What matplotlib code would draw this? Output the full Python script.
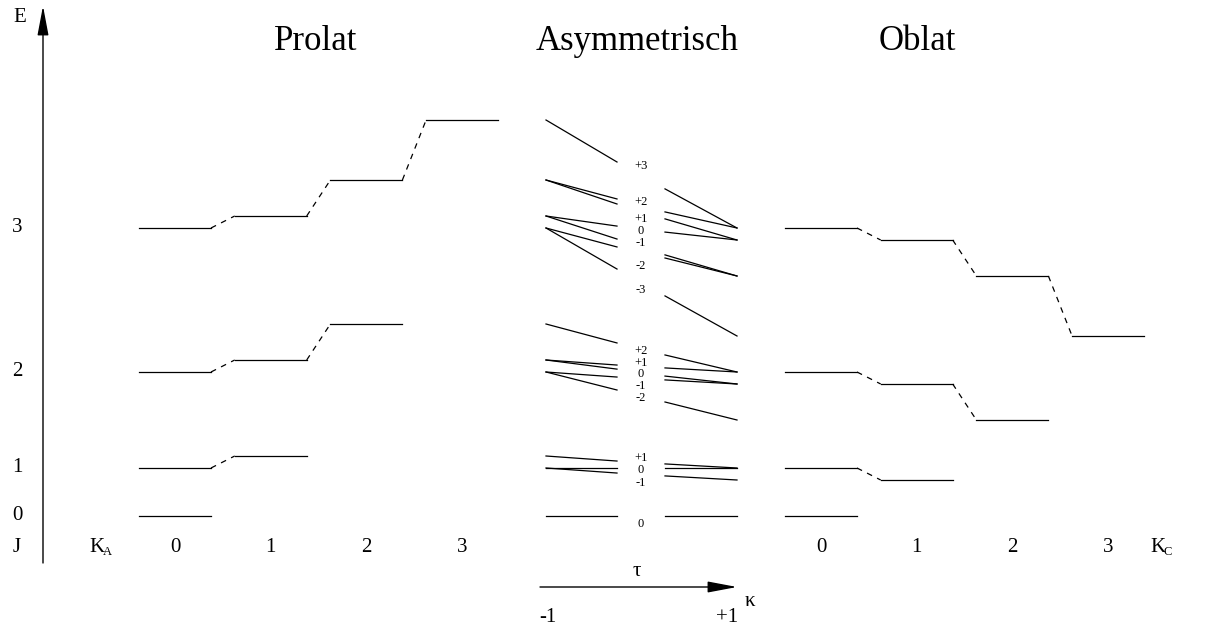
import matplotlib.pyplot as plt

plt.rcParams['font.family'] = ['Liberation Serif', 'DejaVu Serif']

# rotational energies in units of B
J_values = [0, 1, 2, 3]
prolate_E = {0: [0.0], 1: [2.0, 2.5], 2: [6.0, 6.5, 8.0], 3: [12.0, 12.5, 14.0, 16.5]}
oblate_E = {0: [0.0], 1: [2.0, 1.5], 2: [6.0, 5.5, 4.0], 3: [12.0, 11.5, 10.0, 7.5]}
k_labels = ['0', '1', '2', '3']

# correlation lines: (prolate energy, asymmetric energy)
left_lines = [(16.5, 14.75), (14.0, 13.21), (14.0, 13.0), (12.5, 12.08), (12.5, 11.54),
              (12.0, 11.21), (12.0, 10.29),
              (8.0, 7.21), (6.5, 6.29), (6.5, 6.12), (6.0, 5.79), (6.0, 5.25),
              (2.5, 2.29), (2.0, 2.0), (2.0, 1.79),
              (0.0, 0.0)]
# (asymmetric energy, oblate energy)
right_lines = [(13.63, 12.0), (12.67, 12.0), (12.38, 11.5), (11.83, 11.5), (10.88, 10.0),
               (10.75, 10.0), (9.17, 7.5),
               (6.71, 6.0), (6.17, 6.0), (5.83, 5.5), (5.67, 5.5), (4.75, 4.0),
               (2.17, 2.0), (2.0, 2.0), (1.67, 1.5),
               (0.0, 0.0)]

tau_labels = ['+3', '+2', '+1', '0', '-1', '-2', '-3',
              '+2', '+1', '0', '-1', '-2',
              '+1', '0', '-1',
              '0']
tau_E = [14.58, 13.08, 12.38, 11.88, 11.38, 10.42, 9.42,
         6.88, 6.38, 5.90, 5.40, 4.90,
         2.42, 1.92, 1.38,
         -0.33]

B_PX = 24.0
Y0 = 516.0


def ey(ypix):
    # pixel row -> energy units
    return (Y0 - ypix) / B_PX


fig = plt.figure(figsize=(12.25, 6.3), dpi=100)
ax = fig.add_axes([0, 0, 1, 1])
ax.set_xlim(0, 1225)
ax.set_ylim(ey(630), ey(0))
ax.axis('off')

lw = 0.9
col_w = 72
col_step = 95.7
pro_x0 = 139
obl_x0 = 785

# symmetric top ladders
for x0, levels in [(pro_x0, prolate_E), (obl_x0, oblate_E)]:
    for J in J_values:
        Es = levels[J]
        for k, E in enumerate(Es):
            xs = x0 + k * col_step
            ax.plot([xs, xs + col_w], [E, E], color='black', lw=lw)
            if k > 0:
                ax.plot([xs - col_step + col_w, xs], [Es[k - 1], E], color='black',
                        lw=lw, dashes=(4.5, 4.5))

# asymmetric rotor correlation
for Ep, Ea in left_lines:
    ax.plot([546, 617], [Ep, Ea], color='black', lw=lw)
for Ea, Eo in right_lines:
    ax.plot([665, 737], [Ea, Eo], color='black', lw=lw)
for lab, E in zip(tau_labels, tau_E):
    ax.text(641, E, lab, ha='center', va='center', fontsize=9)

# titles
for x, t in [(316, 'Prolat'), (637, 'Asymmetrisch'), (917, 'Oblat')]:
    ax.text(x, ey(42), t, ha='center', va='center', fontsize=25)

arrow = dict(arrowstyle='-|>,head_length=0.9,head_width=0.17',
             mutation_scale=20, lw=1.0, color='black', shrinkA=0, shrinkB=0)

# energy axis
ax.annotate('', xy=(43, ey(6)), xytext=(43, ey(563)), arrowprops=arrow)
ax.text(20, ey(18), 'E', ha='center', va='center', fontsize=15)
for J in J_values:
    ax.text(17, J * (J + 1), str(J), ha='center', va='center', fontsize=15)
ax.text(17, ey(547), 'J', ha='center', va='center', fontsize=15)

# K labels
ax.text(97, ey(547), 'K', ha='center', va='center', fontsize=15)
ax.text(107, ey(552), 'A', ha='center', va='center', fontsize=9)
ax.text(1158, ey(547), 'K', ha='center', va='center', fontsize=15)
ax.text(1168, ey(552), 'C', ha='center', va='center', fontsize=9)
for k, lab in enumerate(k_labels):
    ax.text(pro_x0 + k * col_step + col_w / 2, ey(547), lab, ha='center', va='center', fontsize=15)
    ax.text(obl_x0 + k * col_step + col_w / 2, ey(547), lab, ha='center', va='center', fontsize=15)

# kappa axis
ax.text(637, ey(572), 'τ', ha='center', va='center', fontsize=15)
ax.annotate('', xy=(737, ey(587)), xytext=(540, ey(587)), arrowprops=arrow)
ax.text(750, ey(601), 'κ', ha='center', va='center', fontsize=15)
ax.text(548, ey(618), '-1', ha='center', va='center', fontsize=15)
ax.text(727, ey(618), '+1', ha='center', va='center', fontsize=15)

fig.savefig('out.png', dpi=100)
